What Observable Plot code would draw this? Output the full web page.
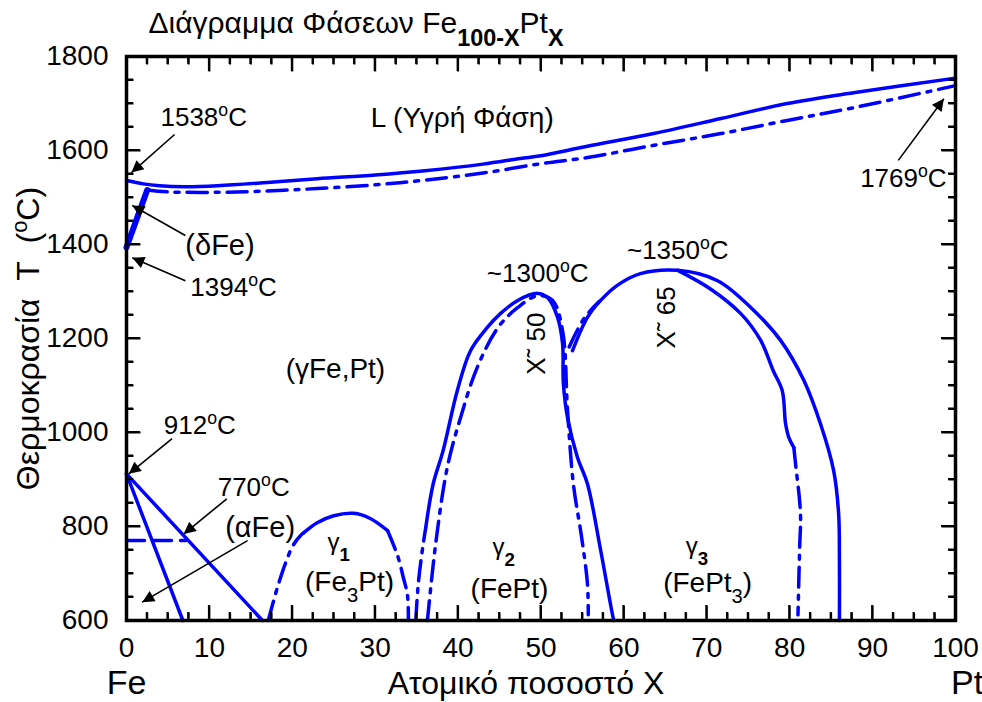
<!DOCTYPE html>
<html><head><meta charset="utf-8">
<script src="https://cdn.jsdelivr.net/npm/d3@7"></script>
<script src="https://cdn.jsdelivr.net/npm/@observablehq/plot@0.6"></script>
<style>
body{margin:0;background:#fff;overflow:hidden}
#chart svg{display:block;font-family:'Liberation Sans', Arial, Helvetica, sans-serif;color:#000;background:#fff}
</style>
</head><body><div id="chart"></div>
<script>
// ---------- data (x = atomic % Pt, y = temperature °C) ----------
const xTicks = [0,10,20,30,40,50,60,70,80,90,100];
const xMinor = [2.5,5,7.5,12.5,15,17.5,22.5,25,27.5,32.5,35,37.5,42.5,45,47.5,52.5,55,57.5,62.5,65,67.5,72.5,75,77.5,82.5,85,87.5,92.5,95,97.5];
const yTicks = [600,800,1000,1200,1400,1600,1800];
const yMinor = [650,700,750,850,900,950,1050,1100,1150,1250,1300,1350,1450,1500,1550,1650,1700,1750];

const liquidus = [[0,1536],[2,1529],[4,1525],[7,1523],[11,1525],[17,1532],[23,1540],[30,1548],[36,1557],[43,1571],[47.5,1583],[50,1589],[55.6,1609],[63.6,1636],[71.7,1668],[79.7,1700],[87.7,1723],[100,1754]];
const solidus = [[2.5,1516],[5,1512],[11,1511],[17,1514],[23,1519],[30,1527],[36,1537],[43,1552],[50,1572],[55.6,1585],[63.6,1611],[71.7,1636],[79.7,1664],[87.7,1691],[100,1738]];
const deltaFe = [[0,1394],[2.5,1516]];
const alphaLine1 = [[0,912],[6.8,600]];
const alphaLine2 = [[0,912],[16.4,600]];
const curie = [[0,770],[7.2,770]];
const gamma1Top = [[21.4,787],[23,808],[25,823],[27.4,828],[29.4,817],[31.5,791]];
const gamma1Left = [[17.1,600],[18.2,670],[19.2,723],[20.1,760],[21.0,781],[21.4,787]];
const gamma1Right = [[31.5,791],[32.7,738],[33.4,691],[33.9,653],[34.0,600]];
const gamma2Outer = [[36.1,798],[37.0,891],[38.2,962],[39.9,1089],[41.5,1174],[43.5,1223],[45.1,1253],[47.2,1281],[49.6,1296],[50.8,1287],[52.0,1245],[52.6,1189],[52.7,1104],[53.2,1032],[54.4,947],[55.6,891],[57.2,749],[58.7,606],[58.8,600]];
const gamma2OuterFoot = [[34.9,600],[35.2,679],[35.8,764],[36.1,798]];
const gamma2Inner = [[36.3,600],[37.3,764],[38.7,926],[40.3,1032],[42.3,1138],[44.8,1223],[47.2,1266],[49.6,1291],[51.4,1281],[52.6,1217],[53.2,1047],[53.9,891],[54.9,777],[55.6,679],[55.7,612]];
const gamma3Outer = [[53.8,1174],[55.6,1245],[57.2,1281],[59.2,1313],[62.0,1338],[66.5,1345],[71.3,1323],[75.3,1266],[78.9,1196],[81.7,1111],[83.7,1019],[85.3,919],[85.9,828],[86.0,721],[86.0,600]];
const gamma3LeftTwin = [[53.4,1182],[55.2,1243],[57.0,1279]];
const gamma3Inner = [[66.5,1345],[70.4,1306],[74.1,1253],[76.5,1196],[78.0,1132],[79.1,1089],[79.5,1019],[79.9,989],[80.5,968]];
const gamma3InnerFoot = [[80.5,968],[80.7,934],[81.3,828],[81.2,755],[81.1,685],[81.0,612]];

const arrowStart = [[5.8,1634],[7.1,1419],[7.1,1323],[5.5,987],[12.1,859],[14.6,770],[93.1,1579]];
const arrowEnd   = [[0.6,1553],[0.7,1483],[0.7,1372],[0.28,912],[6.9,784],[1.9,639],[98.6,1710]];

const numLabels = ["1538^{o}C","1394^{o}C","912^{o}C","770^{o}C","1769^{o}C"];
const numLabelPos = [[4.1,1670],[7.7,1309],[4.5,1015],[11.0,883],[88.5,1540]];
const wordLabels = ["(δFe)","(αFe)"];
const wordLabelPos = [[7.1,1398],[11.9,798]];
const midLabels = ["L (Υγρή Φάση)","(γFe,Pt)","(Fe_{3}Pt)","(FePt)","(FePt_{3})"];
const midLabelPos = [[40.5,1670],[25.2,1136],[26.9,682],[46.2,668],[70.1,680]];
const peakLabels = ["~1300^{o}C","~1350^{o}C"];
const peakLabelPos = [[49.6,1338],[66.5,1387]];
const gammaLabels = ["γ_[1]","γ_[2]","γ_[3]"];
const gammaLabelPos = [[25.6,766],[45.5,755],[68.8,757]];
const rotLabels = ["X˜ 50","X˜ 65"];
const rotLabelPos = [[49.5,1189],[65.1,1245]];

const title = "Διάγραμμα Φάσεων Fe_[100-X]Pt_[X]";
const yTitle = "Θερμοκρασία\u00A0\u00A0T\u00A0\u00A0(^{o}C)";
const xTitle = "Ατομικό ποσοστό Χ";
const endLabels = ["Fe","Pt"];
const endLabelX = [0,101.4];

// ---------- layout ----------
const W = 982, H = 702, mL = 126, mR = 27, mT = 56, mB = 82;
const fH = H - mT - mB, fW = W - mL - mR;
const X0 = 0, X1 = 100, Y0 = 600, Y1 = 1800;
const perPxX = (X1 - X0) / fW, perPxY = (Y1 - Y0) / fH;
const BLUE = "#0000ff", DASHDOT = "20,8,4,8", LW = 3.5;

const pairs = (a) => a.map(([x,y]) => ({x,y}));
const solid = (a, o={}) => Plot.line(pairs(a), {x:"x", y:"y", stroke: BLUE, strokeWidth: LW, curve: "catmull-rom", ...o});
const dd = (a, o={}) => solid(a, {strokeDasharray: DASHDOT, ...o});

const arrows = arrowStart.map((s,i) => ({x1:s[0], y1:s[1], x2:arrowEnd[i][0], y2:arrowEnd[i][1]}));
const lbl = (t,p) => t.map((s,i) => ({t:s, x:p[i][0], y:p[i][1]}));

// inward tick segments on all four sides, from the tick arrays
const tickSegs = [];
const addX = (vals, len) => vals.forEach(v => {
  tickSegs.push({x1:v, x2:v, y1:Y0, y2:Y0 + len*perPxY});
  tickSegs.push({x1:v, x2:v, y1:Y1, y2:Y1 - len*perPxY});
});
const addY = (vals, len) => vals.forEach(v => {
  tickSegs.push({y1:v, y2:v, x1:X0, x2:X0 + len*perPxX});
  tickSegs.push({y1:v, y2:v, x1:X1, x2:X1 - len*perPxX});
});
addX(xTicks, 15); addX(xMinor, 8); addY(yTicks, 14); addY(yMinor, 7);

const chart = Plot.plot({
  width: W, height: H, marginLeft: mL, marginRight: mR, marginTop: mT, marginBottom: mB,
  x: {domain: [X0,X1]}, y: {domain: [Y0,Y1]},
  marks: [
    Plot.link(tickSegs, {x1:"x1", y1:"y1", x2:"x2", y2:"y2", stroke: "black", strokeWidth: 2}),
    solid(liquidus),
    dd(solidus),
    solid(deltaFe, {strokeWidth: 6, curve: "linear"}),
    solid(alphaLine1, {curve: "linear"}),
    solid(alphaLine2, {curve: "linear"}),
    solid(curie, {curve: "linear", strokeDasharray: "18,9"}),
    solid(gamma1Top), dd(gamma1Left), dd(gamma1Right),
    solid(gamma2Outer), dd(gamma2OuterFoot), dd(gamma2Inner),
    solid(gamma3Outer), dd(gamma3LeftTwin), solid(gamma3Inner), dd(gamma3InnerFoot),
    Plot.link(arrows, {x1:"x1", y1:"y1", x2:"x2", y2:"y2", stroke: "black", strokeWidth: 1.6}),
    Plot.frame({strokeWidth: 3.5}),
    Plot.axisX({ticks: xTicks, anchor: "bottom", tickSize: 0, tickPadding: 17, fontSize: 28, label: null, tickFormat: d => String(d)}),
    Plot.axisY({ticks: yTicks, anchor: "left", tickSize: 0, tickPadding: 18, fontSize: 28, label: null, tickFormat: d => String(d)}),
    Plot.text(lbl(numLabels, numLabelPos), {x:"x", y:"y", text:"t", textAnchor:"start", lineAnchor:"middle", fontSize: 26}),
    Plot.text(lbl(wordLabels, wordLabelPos), {x:"x", y:"y", text:"t", textAnchor:"start", lineAnchor:"middle", fontSize: 29}),
    Plot.text(lbl(midLabels, midLabelPos), {x:"x", y:"y", text:"t", textAnchor:"middle", lineAnchor:"middle", fontSize: 28}),
    Plot.text(lbl(peakLabels, peakLabelPos), {x:"x", y:"y", text:"t", textAnchor:"middle", lineAnchor:"middle", fontSize: 26}),
    Plot.text(lbl(gammaLabels, gammaLabelPos), {x:"x", y:"y", text:"t", textAnchor:"middle", lineAnchor:"middle", fontSize: 24}),
    Plot.text(lbl(rotLabels, rotLabelPos), {x:"x", y:"y", text:"t", textAnchor:"middle", lineAnchor:"middle", rotate: -90, fontSize: 26}),
    Plot.text([title], {frameAnchor: "top-left", text: d=>d, textAnchor: "start", lineAnchor: "middle", dx: 22, dy: -33, fontSize: 30}),
    Plot.text([yTitle], {frameAnchor: "left", text: d=>d, textAnchor: "middle", lineAnchor: "middle", rotate: -90, dx: -98, fontSize: 32}),
    Plot.text([xTitle], {frameAnchor: "bottom", text: d=>d, textAnchor: "middle", lineAnchor: "middle", dy: 63, dx: -15, fontSize: 32}),
    Plot.text(endLabels.map((t,i)=>({t, x:endLabelX[i]})), {x:"x", text:"t", frameAnchor: "bottom", textAnchor: "middle", lineAnchor: "middle", dy: 63, fontSize: 34})
  ]
});

const NS = "http://www.w3.org/2000/svg";

// second copy of the inward ticks, placed through the chart's own scales
const sx = chart.scale("x"), sy = chart.scale("y");
const tg = document.createElementNS(NS, "g");
tg.setAttribute("stroke", "#000");
tg.setAttribute("stroke-width", "2");
tickSegs.forEach(s => {
  const ln = document.createElementNS(NS, "line");
  ln.setAttribute("x1", sx.apply(s.x1)); ln.setAttribute("x2", sx.apply(s.x2));
  ln.setAttribute("y1", sy.apply(s.y1)); ln.setAttribute("y2", sy.apply(s.y2));
  tg.appendChild(ln);
});
chart.appendChild(tg);

// filled arrowheads
const defs = document.createElementNS(NS, "defs");
const marker = document.createElementNS(NS, "marker");
[["id","ah"],["viewBox","0 0 10 10"],["refX","10"],["refY","5"],["markerUnits","userSpaceOnUse"],["markerWidth","17"],["markerHeight","12"],["orient","auto"]].forEach(([k,v]) => marker.setAttribute(k, v));
const mp = document.createElementNS(NS, "path");
mp.setAttribute("d", "M0,0L10,5L0,10z"); mp.setAttribute("fill", "black");
marker.appendChild(mp); defs.appendChild(marker);
chart.appendChild(defs);
const linkGroups = chart.querySelectorAll('g[aria-label="link"]');
if (linkGroups.length > 1) linkGroups[1].querySelectorAll("path").forEach(p => p.setAttribute("marker-end", "url(#ah)"));

// sub/superscripts
chart.querySelectorAll("text").forEach(t => {
  if (t.children.length) return;
  const s = t.textContent;
  if (!/\^\{|_\{|_\[/.test(s)) return;
  const re = /\^\{([^}]*)\}|_\{([^}]*)\}|_\[([^\]]*)\]/g;
  t.textContent = "";
  let last = 0, m;
  const add = (txt, kind) => {
    const ts = document.createElementNS(NS, "tspan");
    ts.textContent = txt;
    if (kind === "sup") { ts.setAttribute("baseline-shift", "super"); ts.setAttribute("font-size", "68%"); }
    if (kind === "sub") { ts.setAttribute("baseline-shift", "sub"); ts.setAttribute("font-size", "72%"); }
    if (kind === "subb") { ts.setAttribute("baseline-shift", "sub"); ts.setAttribute("font-size", "78%"); ts.setAttribute("font-weight", "bold"); }
    t.appendChild(ts);
  };
  while ((m = re.exec(s))) {
    if (m.index > last) add(s.slice(last, m.index), "n");
    if (m[1] !== undefined) add(m[1], "sup");
    else if (m[2] !== undefined) add(m[2], "sub");
    else add(m[3], "subb");
    last = re.lastIndex;
  }
  if (last < s.length) add(s.slice(last), "n");
});

document.getElementById("chart").appendChild(chart);
</script></body></html>
